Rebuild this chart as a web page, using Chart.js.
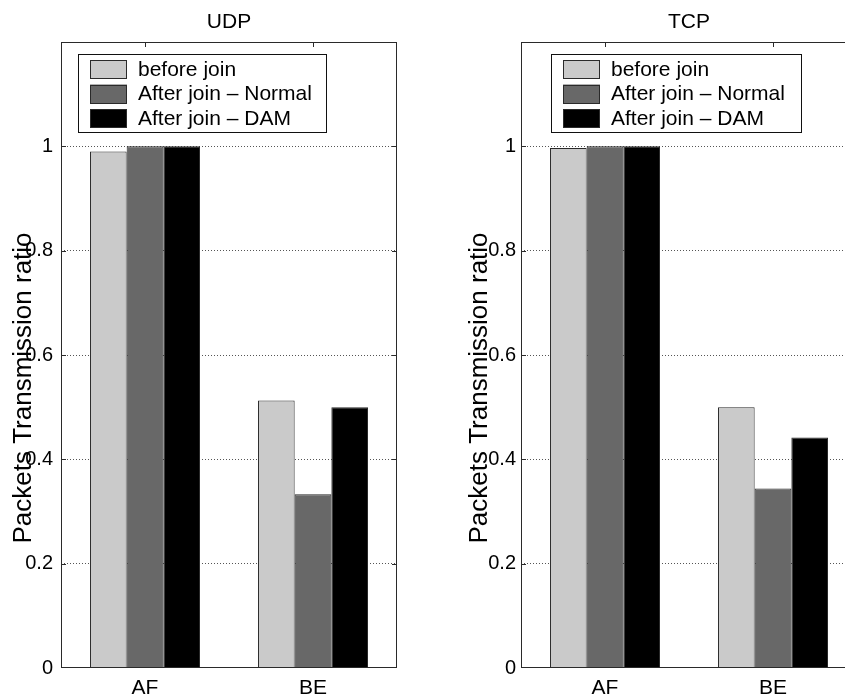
<!DOCTYPE html>
<html>
<head>
<meta charset="utf-8">
<script src="https://cdn.jsdelivr.net/npm/chart.js@4/dist/chart.umd.min.js"></script>
<style>
html,body{margin:0;padding:0;background:#fff;overflow:hidden;width:845px;height:697px;}
.wrap{position:absolute;top:0;height:697px;}
#udpWrap{left:0;width:420px;}
#tcpWrap{left:420px;width:460px;}
canvas{display:block;}
</style>
</head>
<body>
<div class="wrap" id="udpWrap"><canvas id="udp" width="420" height="697" style="width:420px;height:697px"></canvas></div>
<div class="wrap" id="tcpWrap"><canvas id="tcp" width="460" height="697" style="width:460px;height:697px"></canvas></div>
<script>
// ---- data ----
const categories = ['AF', 'BE'];
const seriesLabels = ['before join', 'After join \u2013 Normal', 'After join \u2013 DAM'];
const udpBefore = [0.99, 0.513];
const udpNormal = [1.0, 0.333];
const udpDAM    = [1.0, 0.500];
const tcpBefore = [0.997, 0.500];
const tcpNormal = [1.0, 0.344];
const tcpDAM    = [1.0, 0.442];
const yTickValues = [0, 0.2, 0.4, 0.6, 0.8, 1];
const yTitle = 'Packets Transmission ratio';

// ---- styles ----
const FONT = '"Liberation Sans", Arial, Helvetica, sans-serif';
const seriesColors = ['#cacaca', '#686868', '#000000'];
const edge = '#2a2a2a';

const frameTextPlugin = {
  id: 'frameText',
  afterDatasetsDraw(chart, args, opts) {
    const ctx = chart.ctx;
    const a = chart.chartArea;
    const xs = chart.scales.x, ys = chart.scales.y;
    ctx.save();
    // axes box
    ctx.strokeStyle = edge;
    ctx.lineWidth = 1;
    ctx.setLineDash([]);
    ctx.strokeRect(Math.round(a.left) + 0.5, Math.round(a.top) + 0.5,
                   Math.round(a.right - a.left) - 1, Math.round(a.bottom - a.top) - 1);
    // inward tick marks
    ctx.beginPath();
    categories.forEach((c, i) => {
      const px = Math.round(xs.getPixelForValue(i)) + 0.5;
      ctx.moveTo(px, a.top); ctx.lineTo(px, a.top + 5);
    });
    yTickValues.forEach(v => {
      if (v === 0) return;
      const py = Math.round(ys.getPixelForValue(v)) + 0.5;
      ctx.moveTo(a.left, py); ctx.lineTo(a.left + 5, py);
      ctx.moveTo(a.right, py); ctx.lineTo(a.right - 5, py);
    });
    ctx.stroke();

    // legend box
    const lx = a.left + opts.legendDx, ly = 54, lw = opts.legendW, lh = 78;
    ctx.fillStyle = '#fff';
    ctx.fillRect(lx, ly, lw, lh);
    ctx.strokeStyle = '#111';
    ctx.strokeRect(Math.round(lx) + 0.5, ly + 0.5, lw, lh);
    ctx.font = '21px ' + FONT;
    ctx.textBaseline = 'middle';
    ctx.textAlign = 'left';
    chart.data.datasets.forEach((ds, i) => {
      const sy = 60 + i * 24.5;
      ctx.fillStyle = ds.backgroundColor;
      ctx.fillRect(lx + 12, sy, 37, 19);
      ctx.strokeStyle = edge;
      ctx.strokeRect(Math.round(lx + 12) + 0.5, Math.round(sy) + 0.5, 36, 18);
      ctx.fillStyle = '#000';
      ctx.fillText(ds.label, lx + 60, sy + 10);
    });

    // title
    ctx.font = '21px ' + FONT;
    ctx.textAlign = 'center';
    ctx.textBaseline = 'alphabetic';
    ctx.fillStyle = '#000';
    ctx.fillText(opts.title, (a.left + a.right) / 2, 28);

    // y-axis title
    ctx.translate(opts.yTitleX, 388);
    ctx.rotate(-Math.PI / 2);
    ctx.font = '26px ' + FONT;
    ctx.fillText(yTitle, 0, 0);
    ctx.restore();
  }
};

function makeChart(id, title, before, normal, dam, axisWidth, tickPad, legendDx, legendW, yTitleX) {
  const values = [before, normal, dam];
  return new Chart(document.getElementById(id), {
    type: 'bar',
    data: {
      labels: categories,
      datasets: seriesLabels.map((lab, i) => ({
        label: lab,
        data: values[i],
        backgroundColor: seriesColors[i],
        borderColor: edge,
        borderWidth: 1,
        categoryPercentage: 0.655,
        barPercentage: 1.0
      }))
    },
    options: {
      responsive: false,
      devicePixelRatio: 1,
      animation: false,
      layout: { padding: { top: 42, right: 23, left: 0, bottom: 0 } },
      plugins: {
        legend: { display: false },
        title: { display: false },
        tooltip: { enabled: false },
        frameText: { title: title, legendDx: legendDx, legendW: legendW, yTitleX: yTitleX }
      },
      scales: {
        x: {
          grid: { display: false, drawTicks: false },
          border: { display: false },
          ticks: { color: '#000', font: { family: FONT, size: 21 }, padding: 8 },
          afterFit(s) { s.height = 29; }
        },
        y: {
          min: 0, max: 1.2,
          afterBuildTicks(s) { s.ticks = yTickValues.concat([1.2]).map(v => ({ value: v })); },
          ticks: {
            color: '#000',
            font: { family: FONT, size: 20 },
            padding: tickPad,
            callback: v => (v > 1.05 ? '' : String(Math.round(v * 10) / 10))
          },
          grid: {
            drawTicks: false,
            lineWidth: 1,
            color: c => (c.tick && (c.tick.value === 0 || c.tick.value > 1.05)) ? 'rgba(0,0,0,0)' : '#555'
          },
          border: { display: false, dash: [1, 2] },
          afterFit(s) { s.width = axisWidth; }
        }
      }
    },
    plugins: [frameTextPlugin]
  });
}

makeChart('udp', 'UDP', udpBefore, udpNormal, udpDAM, 61, 8, 17, 248, 31);
makeChart('tcp', 'TCP', tcpBefore, tcpNormal, tcpDAM, 101, 5, 30, 250, 67);
</script>
</body>
</html>
